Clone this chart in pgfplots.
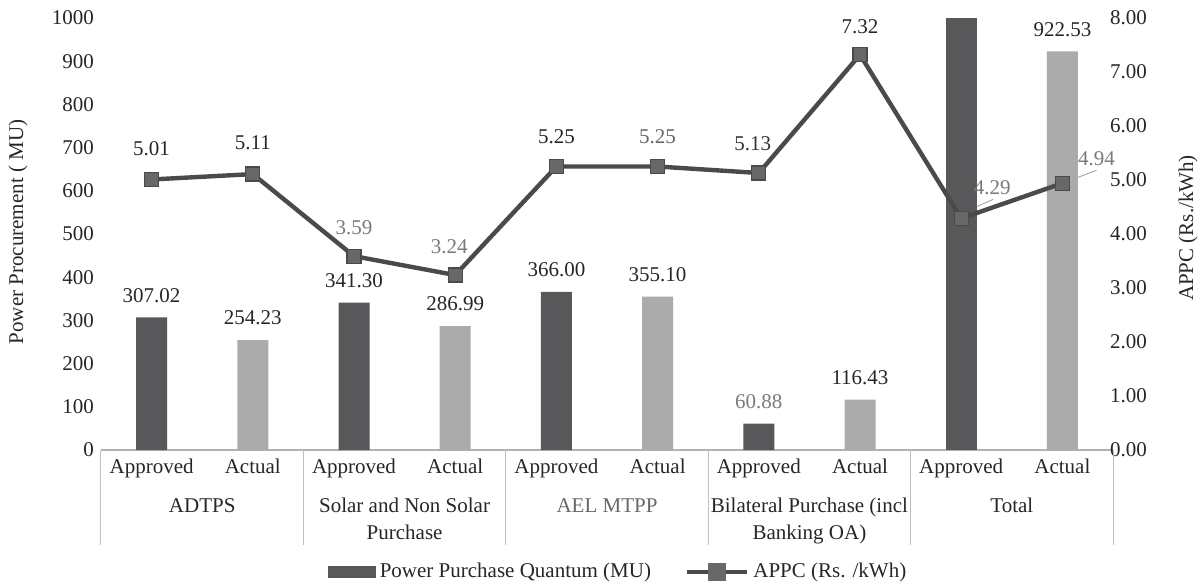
\documentclass[border=0pt]{standalone}
\usepackage{fontspec}
\setmainfont{Liberation Serif}
\usepackage{pgfplots}
\usepackage{pgfplotstable}
\pgfplotsset{compat=1.18}
\pgfkeys{/pgf/number format/assume math mode=true}

\definecolor{barDark}{HTML}{58585A}
\definecolor{barLight}{HTML}{ABABAB}
\definecolor{lineGrey}{HTML}{4A4A4A}
\definecolor{markGrey}{HTML}{686868}
\definecolor{txtDark}{HTML}{262626}
\definecolor{txtGrey}{HTML}{7A7A7A}
\newcommand{\chartfont}{\fontsize{10.5}{13.5}\selectfont}

% Power purchase quantum (MU); k = label darkness (percent black)
\pgfplotstableread{
x  y       k
0  307.02  85
2  341.30  85
4  366.00  85
6  60.88   52
}\approved
\pgfplotstableread{
x  y       k
1  254.23  85
3  286.99  85
5  355.10  85
7  116.43  85
9  922.53  85
}\actual
% APPC (Rs./kWh) with label offsets (pt)
\pgfplotstableread{
x  y     dx    dy    k
0  5.01  0     15.5  85
1  5.11  0     15.5  85
2  3.59  0     14    52
3  3.24  -3    14    52
4  5.25  0     15    85
5  5.25  0     15    60
6  5.13  -3    14.5  80
7  7.32  0     14    85
8  4.29  15.5  15.5  52
9  4.94  17    12.5  52
}\appc

\begin{document}
\begin{tikzpicture}[font=\chartfont]
\useasboundingbox (-50.5pt,-68pt) rectangle (549pt,225pt);

\begin{axis}[
  at={(0,0)}, anchor=south west,
  scale only axis, width=506pt, height=216pt,
  xmin=-0.5, xmax=9.5, ymin=0, ymax=1000,
  clip mode=individual,
  axis x line*=bottom, axis y line*=left,
  y axis line style={draw=none},
  x axis line style={draw=gray!60, line width=0.6pt},
  major tick length=0pt,
  ytick={0,100,...,1000},
  yticklabel style={/pgf/number format/1000 sep={}},
  xtick={0,...,9},
  xticklabels={Approved,Actual,Approved,Actual,Approved,Actual,Approved,Actual,Approved,Actual},
  tick label style={font=\chartfont, text=txtDark},
  xticklabel style={yshift=-1pt},
]
\addplot[ybar, bar width=15.5pt, bar shift=0pt, fill=barDark, draw=none,
  point meta=y,
  visualization depends on={\thisrow{k} \as \kk},
  nodes near coords={\pgfmathprintnumber[fixed,fixed zerofill,precision=2]{\pgfplotspointmeta}},
  every node near coord/.append style={anchor=center, yshift=11pt, font=\chartfont, text=black!\kk}]
  table[x=x, y=y] {\approved};
\addplot[ybar, bar width=15.5pt, bar shift=0pt, fill=barLight, draw=none,
  point meta=y,
  visualization depends on={\thisrow{k} \as \kk},
  nodes near coords={\pgfmathprintnumber[fixed,fixed zerofill,precision=2]{\pgfplotspointmeta}},
  every node near coord/.append style={anchor=center, yshift=11pt, font=\chartfont, text=black!\kk}]
  table[x=x, y=y] {\actual};
% Total approved quantum runs past the top of the scale
\addplot[ybar, bar width=15.5pt, bar shift=0pt, fill=barDark, draw=none]
  coordinates {(8,1075.20)};
\end{axis}

\begin{axis}[
  at={(0,0)}, anchor=south west,
  scale only axis, width=506pt, height=216pt,
  xmin=-0.5, xmax=9.5, ymin=0, ymax=8,
  clip=false,
  axis x line=none, axis y line*=right,
  y axis line style={draw=none},
  major tick length=0pt,
  ytick={0,1,...,8},
  yticklabel={\pgfmathprintnumber[fixed,fixed zerofill,precision=2]{\tick}},
  yticklabel style={xshift=-5pt},
  tick label style={font=\chartfont, text=txtDark},
  legend style={at={(0.512,-0.2824)}, anchor=center, draw=none, fill=none,
    font=\chartfont, text=txtDark, legend columns=2,
    /tikz/every even column/.append style={column sep=15pt}},
  legend cell align=left,
]
\addlegendimage{legend image code/.code={\fill[barDark] (0pt,-2.8pt) rectangle (23.5pt,2.8pt);}}
\addlegendentry{Power Purchase Quantum (MU)}
\addplot[lineGrey, line width=2.2pt,
  mark=square*, mark size=3.5pt,
  mark options={fill=markGrey, draw=lineGrey, line width=0.6pt},
  point meta=y,
  visualization depends on={\thisrow{dx} \as \dx},
  visualization depends on={\thisrow{dy} \as \dy},
  visualization depends on={\thisrow{k} \as \kk},
  nodes near coords={\pgfmathprintnumber[fixed,fixed zerofill,precision=2]{\pgfplotspointmeta}},
  every node near coord/.append style={anchor=center, xshift=\dx pt, yshift=\dy pt,
    text=black!\kk, font=\chartfont},
  legend image code/.code={
    \draw[lineGrey, line width=2.2pt] (0pt,0pt) -- (30pt,0pt);
    \fill[markGrey] (11.5pt,-3.3pt) rectangle (18.5pt,3.3pt);}]
  table[x=x, y=y] {\appc};
\addlegendentry{APPC (Rs. /kWh)}
% leader lines for the two total labels
\draw[gray!65, line width=0.5pt] ([shift={(8pt,6pt)}]axis cs:8,4.29) -- ([shift={(16pt,9.5pt)}]axis cs:8,4.29);
\draw[gray!65, line width=0.5pt] ([shift={(4pt,1.5pt)}]axis cs:9,4.94) -- ([shift={(17pt,6.5pt)}]axis cs:9,4.94);
\end{axis}

% group separators below the category axis
\foreach \xx in {0,101.2,202.4,303.6,404.8,506}
  \draw[gray!50, line width=0.5pt] (\xx pt,0pt) -- (\xx pt,-47.5pt);

% group names
\begin{scope}[every node/.style={anchor=north, inner sep=0pt, align=center, font=\chartfont, text=txtDark}]
  \node at (50.6pt,-24pt) {ADTPS};
  \node at (151.8pt,-24pt) {Solar and Non Solar\\Purchase};
  \node[text=txtGrey!85!black] at (253pt,-24pt) {AEL MTPP};
  \node at (354.2pt,-24pt) {Bilateral Purchase (incl\\Banking OA)};
  \node at (455.4pt,-24pt) {Total};
\end{scope}

% axis titles
\node[rotate=90, text=txtDark, font=\chartfont] at (-41.5pt,109pt) {Power Procurement ( MU)};
\node[rotate=90, text=txtDark, font=\chartfont] at (543.5pt,111pt) {APPC (Rs./kWh)};
\end{tikzpicture}
\end{document}
